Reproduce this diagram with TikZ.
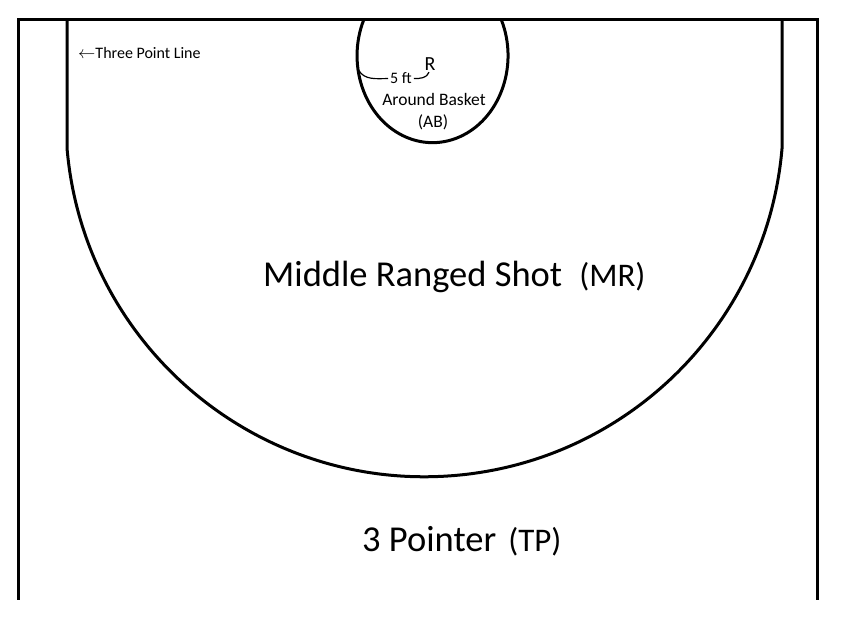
\documentclass[tikz,border=0pt]{standalone}
\usepackage{fontspec}
\setmainfont{Carlito}
\usetikzlibrary{positioning}

\newcommand{\fsz}[1]{\fontsize{#1}{#1}\selectfont}

\begin{document}
\begin{tikzpicture}[x=1pt,y=1pt,court/.style={line width=3pt},dimline/.style={line width=1.2pt},lbl/.style={anchor=base west,inner sep=0pt}]
  \useasboundingbox (0,0) rectangle (850,620);
  % court outline
  \draw[court] (18,20)--(18,600)--(817,600)--(817,20);
  % three point line
  \draw[court] (67,600)--(67,472) arc[start angle=184.8,end angle=355.2,radius=358.8]--(782,600);
  % around the basket
  \draw[court] (501.4,600) arc[start angle=24.2,end angle=-204.2,x radius=75.5,y radius=87];
  \coordinate (rim) at (358.5,550);
  \node[lbl] (tpl) at (78,561) {\fsz{16}$\leftarrow$Three Point Line};
  \node[anchor=base,inner sep=1pt] (R) at (430,549) {\fsz{20}R};
  \node[lbl,inner sep=2pt] (ft) at (388,536) {\fsz{16}5 ft};
  \draw[dimline] (rim) to[out=-60,in=180] (ft.west);
  \draw[dimline] (ft.east) to[out=0,in=-110] ([xshift=-1pt]R.south);
  \node[anchor=base] (ab) at (434,514) {\fsz{17.5}Around Basket};
  \node[anchor=base] (abs) at (433,492) {\fsz{17.5}(AB)};
  \node[lbl] (mr) at (263,333) {\fsz{36.5}Middle Ranged Shot\hspace{17pt}{\fsz{33}(MR)}};
  \node[lbl] (tp) at (362,68) {\fsz{36.5}3 Pointer\hspace{12pt}{\fsz{33}(TP)}};
\end{tikzpicture}
\end{document}
